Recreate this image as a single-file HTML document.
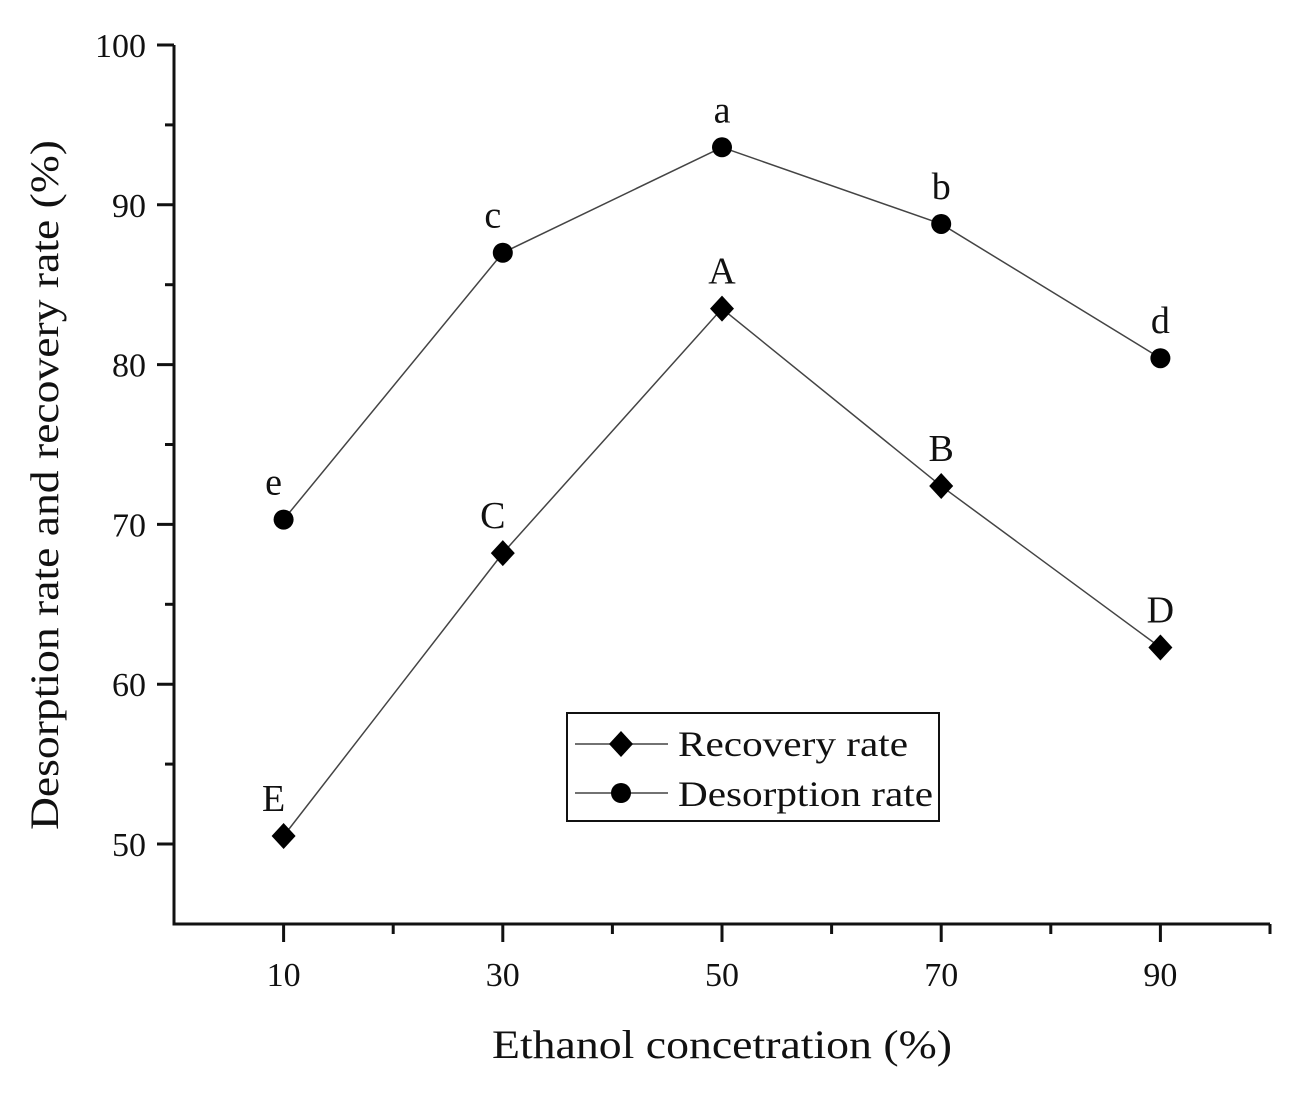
<!DOCTYPE html>
<html><head><meta charset="utf-8"><style>
html,body{margin:0;padding:0;background:#fff;}
svg text{font-family:"Liberation Serif",serif;fill:#111;}
</style></head><body>
<svg id="chart" width="1300" height="1089" xmlns="http://www.w3.org/2000/svg"></svg>
<script>
const categories=[10,30,50,70,90];
const desorption=[70.3,87.0,93.6,88.8,80.4];
const recovery=[50.5,68.2,83.5,72.4,62.3];
const desLabels=["e","c","a","b","d"];
const recLabels=["E","C","A","B","D"];
const yTicks=[50,60,70,80,90,100];
const xTicks=[10,30,50,70,90];
const NS="http://www.w3.org/2000/svg";
const svg=document.getElementById('chart');
const L=174,R=1270,T=45,B=924;
const xs=v=>L+(v-0)/100*(R-L);
const ys=v=>844-(v-50)*15.98;
function el(t,a,p){const e=document.createElementNS(NS,t);for(const k in a)e.setAttribute(k,a[k]);(p||svg).appendChild(e);return e;}
let ax=el('path',{d:`M${L} ${T}V${B}H${R}`,stroke:'#111','stroke-width':3,fill:'none'});


for(let v=50;v<=100;v+=5){const y=ys(v);const major=v%10===0;
 const t=el('line',{x1:L-(major?17:9),x2:L,y1:y,y2:y,stroke:'#111','stroke-width':3});
 
 }
yTicks.forEach(v=>{const t=el('text',{x:L-28,y:ys(v)+12,'font-size':34,'text-anchor':'end'});t.textContent=v;
 
 });
for(let v=10;v<=100;v+=10){const x=xs(v);const major=(v/10)%2===1;
 const t=el('line',{x1:x,x2:x,y1:B,y2:B+(major?18:10),stroke:'#111','stroke-width':3});
 
 }
xTicks.forEach(v=>{const t=el('text',{x:xs(v),y:986,'font-size':34,'text-anchor':'middle'});t.textContent=v;
 
 });
let xt=el('text',{x:722,y:1058,'font-size':40,'text-anchor':'middle',textLength:460,lengthAdjust:'spacingAndGlyphs'});xt.textContent='Ethanol concetration (%)';


let yt=el('text',{x:0,y:0,'font-size':40,'text-anchor':'middle',textLength:690,lengthAdjust:'spacingAndGlyphs',transform:'translate(58,485) rotate(-90)'});yt.textContent='Desorption rate and recovery rate (%)';


function series(vals,labels,shape,name){
 const pl=el('polyline',{points:vals.map((v,i)=>xs(categories[i])+','+ys(v)).join(' '),fill:'none',stroke:'#444','stroke-width':1.5});
 
 
 vals.forEach((v,i)=>{const x=xs(categories[i]),y=ys(v);let m;
  if(shape==='circle')m=el('circle',{cx:x,cy:y,r:10,fill:'#000'});
  else m=el('path',{d:`M${x} ${y-13}L${x+12} ${y}L${x} ${y+13}L${x-12} ${y}Z`,fill:'#000'});
  
  
  const t=el('text',{x:x-(i===0||i===1?10:0),y:y-25,'font-size':38,'text-anchor':'middle'});t.textContent=labels[i];
  
  });
}
series(desorption,desLabels,'circle','desorption');
series(recovery,recLabels,'diamond','recovery');
const lg=el('g',{});


el('rect',{x:567,y:713,width:372,height:108,fill:'#fff',stroke:'#111','stroke-width':2},lg);
el('line',{x1:575,x2:668,y1:744,y2:744,stroke:'#444','stroke-width':1.5},lg);
el('path',{d:'M621 731L633 744L621 757L609 744Z',fill:'#000'},lg);
el('line',{x1:575,x2:668,y1:793,y2:793,stroke:'#444','stroke-width':1.5},lg);
el('circle',{cx:621,cy:793,r:10,fill:'#000'},lg);
let l1=el('text',{x:678,y:756,'font-size':36,textLength:230,lengthAdjust:'spacingAndGlyphs'},lg);l1.textContent='Recovery rate';


let l2=el('text',{x:678,y:806,'font-size':36,textLength:255,lengthAdjust:'spacingAndGlyphs'},lg);l2.textContent='Desorption rate';


</script>
</body></html>
